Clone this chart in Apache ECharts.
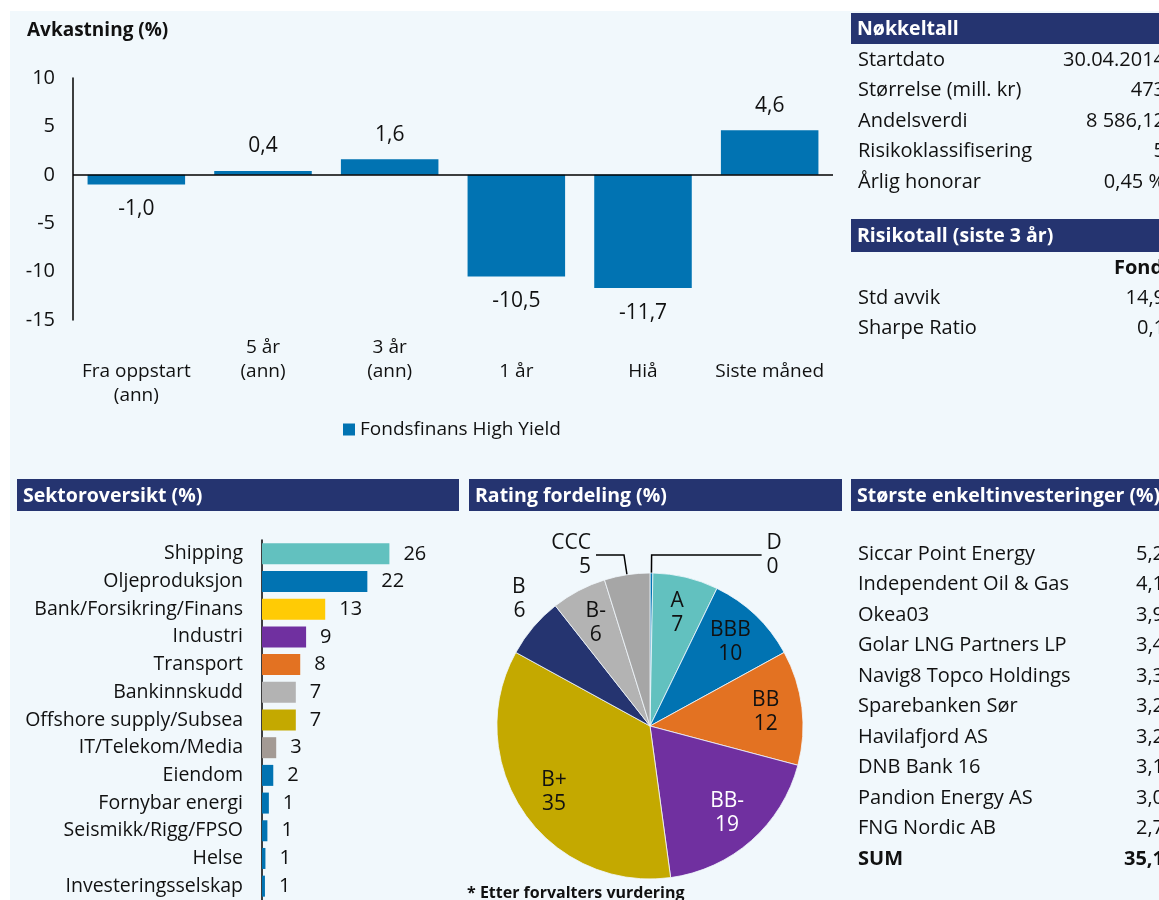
<!DOCTYPE html>
<html>
<head>
<meta charset="utf-8">
<script src="https://cdn.jsdelivr.net/npm/echarts@6/dist/echarts.min.js"></script>
<style>
  html, body { margin: 0; padding: 0; background: #fff; }
  #main { width: 1159px; height: 900px; }
</style>
</head>
<body>
<div id="main"></div>
<script>
// Avkastning
var periods = ['Fra oppstart\n(ann)', '5 år\n(ann)', '3 år\n(ann)', '1 år', 'Hiå', 'Siste måned'];
var returns = [-1.0, 0.4, 1.6, -10.5, -11.7, 4.6];
var seriesName = 'Fondsfinans High Yield';

// Sektoroversikt
var sectors = ['Shipping', 'Oljeproduksjon', 'Bank/Forsikring/Finans', 'Industri', 'Transport',
  'Bankinnskudd', 'Offshore supply/Subsea', 'IT/Telekom/Media', 'Eiendom', 'Fornybar energi',
  'Seismikk/Rigg/FPSO', 'Helse', 'Investeringsselskap'];
var sectorValues = [26.0, 21.5, 12.9, 9.0, 7.8, 6.9, 6.9, 2.9, 2.3, 1.4, 1.1, 0.7, 0.6];
var sectorColors = ['#62c1bf', '#0173b2', '#ffcb05', '#7030a0', '#e37222', '#b3b3b3', '#c4a900',
  '#a39a94', '#0173b2', '#0173b2', '#0173b2', '#0173b2', '#0173b2'];

// Rating fordeling
var ratings = ['D', 'A', 'BBB', 'BB', 'BB-', 'B+', 'B', 'B-', 'CCC'];
var ratingValues = [0.3, 6.9, 9.8, 12.1, 18.7, 35.1, 6.4, 5.8, 4.8];
var ratingColors = ['#0173b2', '#62c1bf', '#0173b2', '#e37222', '#7030a0', '#c4a900', '#253470', '#b3b3b3', '#a6a6a6'];
var outsideRatings = ['D', 'B', 'CCC'];

// Tabeller
var keyNames = ['Startdato', 'Størrelse (mill. kr)', 'Andelsverdi', 'Risikoklassifisering', 'Årlig honorar'];
var keyValues = ['30.04.2014', '473', '8 586,12', '5', '0,45 %'];
var riskNames = ['Std avvik', 'Sharpe Ratio'];
var riskValues = ['14,9', '0,1'];
var holdingNames = ['Siccar Point Energy', 'Independent Oil & Gas', 'Okea03', 'Golar LNG Partners LP',
  'Navig8 Topco Holdings', 'Sparebanken Sør', 'Havilafjord AS', 'DNB Bank 16', 'Pandion Energy AS', 'FNG Nordic AB'];
var holdingValues = [5.2, 4.1, 3.9, 3.4, 3.3, 3.2, 3.2, 3.1, 3.0, 2.7];

var FONT = '"Open Sans", "Noto Sans", sans-serif';
var NAVY = '#253470';
var BLUE = '#0173b2';

function comma(v) { return v.toFixed(1).replace('.', ','); }

function txt(text, x, y, opt) {
  opt = opt || {};
  return {
    type: 'text', z: 5,
    style: {
      text: text, x: x, y: y,
      fill: opt.fill || '#111',
      fontSize: opt.size || 20,
      fontWeight: opt.bold ? 'bold' : 'normal',
      fontFamily: FONT,
      textAlign: opt.align || 'left', align: opt.align || 'left',
      textVerticalAlign: 'middle', verticalAlign: 'middle'
    }
  };
}
function header(text, x, y, w, h) {
  return [
    { type: 'rect', z: 3, shape: { x: x, y: y, width: w, height: h }, style: { fill: NAVY } },
    txt(text, x + 6, y + h / 2 + 1, { fill: '#fff', bold: true, size: 19.5 })
  ];
}

var graphics = [
  { type: 'rect', z: 0, shape: { x: 10, y: 11, width: 1160, height: 900 }, style: { fill: '#f1f8fc' } },
  txt('Avkastning (%)', 27, 31, { bold: true, size: 19 })
];
graphics = graphics.concat(header('Nøkkeltall', 851, 13, 320, 31));
keyNames.forEach(function (n, i) {
  graphics.push(txt(n, 858, 60 + i * 30.5));
  graphics.push(txt(keyValues[i], 1165, 60 + i * 30.5, { align: 'right' }));
});
graphics = graphics.concat(header('Risikotall (siste 3 år)', 851, 219, 320, 33));
graphics.push(txt('Fond', 1114, 268, { bold: true }));
riskNames.forEach(function (n, i) {
  graphics.push(txt(n, 858, 298 + i * 30.5));
  graphics.push(txt(riskValues[i], 1165, 298 + i * 30.5, { align: 'right' }));
});
graphics = graphics.concat(header('Sektoroversikt (%)', 17, 479, 442, 32));
graphics = graphics.concat(header('Rating fordeling (%)', 469, 479, 373, 32));
graphics = graphics.concat(header('Største enkeltinvesteringer (%)', 851, 479, 320, 32));
holdingNames.forEach(function (n, i) {
  graphics.push(txt(n, 858, 554 + i * 30.5));
  graphics.push(txt(comma(holdingValues[i]), 1164, 554 + i * 30.5, { align: 'right' }));
});
var sum = holdingValues.reduce(function (a, b) { return a + b; }, 0);
graphics.push(txt('SUM', 858, 554 + 10 * 30.5, { bold: true }));
graphics.push(txt(comma(sum), 1164, 554 + 10 * 30.5, { align: 'right', bold: true }));
graphics.push(txt('* Etter forvalters vurdering', 467, 893, { bold: true, size: 16 }));

var pieData = ratings.map(function (n, i) {
  var out = outsideRatings.indexOf(n) >= 0;
  var item = { name: n, value: ratingValues[i], itemStyle: { color: ratingColors[i] }, label: { show: out } };
  if (n === 'D') item.labelLine = { show: true, length: 18, length2: 110 };
  else if (n === 'CCC') item.labelLine = { show: true, length: 20, length2: 28 };
  else if (n === 'B') item.labelLine = { show: false, length: 22, length2: 0 };
  else item.labelLine = { show: false };
  return item;
});
var pieLabelData = ratings.map(function (n, i) {
  var inside = outsideRatings.indexOf(n) < 0;
  return {
    name: n, value: ratingValues[i],
    label: { show: inside, color: n === 'BB-' ? '#fff' : '#111' }
  };
});

var chart = echarts.init(document.getElementById('main'));
var option = {
  animation: false,
  textStyle: { fontFamily: FONT },
  graphic: graphics,
  legend: {
    data: [seriesName], left: 338, top: 415, icon: 'rect', itemWidth: 12, itemHeight: 12, itemGap: 6,
    textStyle: { fontSize: 19, color: '#111', fontFamily: FONT }
  },
  grid: [
    { left: 73, top: 78, width: 760, height: 242 },
    { left: 262, top: 540, width: 196, height: 363 }
  ],
  xAxis: [
    {
      gridIndex: 0, type: 'category', data: periods, position: 'bottom',
      axisLine: { show: false, onZero: false }, axisTick: { show: false },
      axisLabel: {
        interval: 0, margin: 16, lineHeight: 24, fontSize: 19, color: '#111',
        formatter: function (v) { return /år\n/.test(v) ? v : '\n' + v; }
      }
    },
    { gridIndex: 1, type: 'value', min: 0, max: 40, show: false }
  ],
  yAxis: [
    {
      gridIndex: 0, type: 'value', min: -15, max: 10, interval: 5,
      axisLine: { show: true, lineStyle: { color: '#000', width: 1.5 } },
      axisTick: { show: false }, splitLine: { show: false },
      axisLabel: { fontSize: 20, color: '#111', margin: 18 }
    },
    {
      gridIndex: 1, type: 'category', data: sectors, inverse: true,
      axisLine: { show: true, lineStyle: { color: '#000', width: 1.5 } },
      axisTick: { show: false },
      axisLabel: { fontSize: 19.5, color: '#111', margin: 19, interval: 0 }
    }
  ],
  series: [
    {
      name: seriesName, type: 'bar', xAxisIndex: 0, yAxisIndex: 0, barWidth: '77%',
      itemStyle: { color: BLUE },
      data: returns.map(function (v) {
        return { value: v, label: { position: v < 0 ? 'bottom' : 'top' } };
      }),
      label: { show: true, distance: 14, fontSize: 21, color: '#111', formatter: function (p) { return comma(p.value); } },
      markLine: {
        silent: true, symbol: 'none', label: { show: false },
        lineStyle: { color: '#000', width: 1.5, type: 'solid' },
        data: [{ yAxis: 0 }]
      }
    },
    {
      name: 'Sektor', type: 'bar', xAxisIndex: 1, yAxisIndex: 1, barWidth: 21,
      data: sectorValues.map(function (v, i) { return { value: v, itemStyle: { color: sectorColors[i] } }; }),
      label: { show: true, position: 'right', distance: 14, fontSize: 20, color: '#111', formatter: function (p) { return Math.round(p.value); } }
    },
    {
      name: 'Rating', type: 'pie', center: [650, 726], radius: 153, startAngle: 90, silent: true,
      itemStyle: { borderColor: '#f1f8fc', borderWidth: 0.8 },
      label: { position: 'outside', fontSize: 21, lineHeight: 24, color: '#111', formatter: function (p) { return p.name + '\n' + Math.round(p.value); } },
      labelLine: { lineStyle: { color: '#000', width: 1.5 } },
      labelLayout: function (p) {
        if (p.dataIndex === ratings.indexOf('B')) return { dx: 14, dy: -14 };
        return {};
      },
      data: pieData
    },
    {
      name: 'RatingLabels', type: 'pie', center: [650, 726], radius: [74, 153], startAngle: 90, silent: true,
      itemStyle: { color: 'rgba(0,0,0,0)' },
      label: { position: 'inside', fontSize: 21, lineHeight: 24, formatter: function (p) { return p.name + '\n' + Math.round(p.value); } },
      labelLine: { show: false },
      data: pieLabelData
    }
  ]
};
chart.setOption(option);
window.addEventListener('resize', function () { chart.resize(); });
</script>
</body>
</html>
